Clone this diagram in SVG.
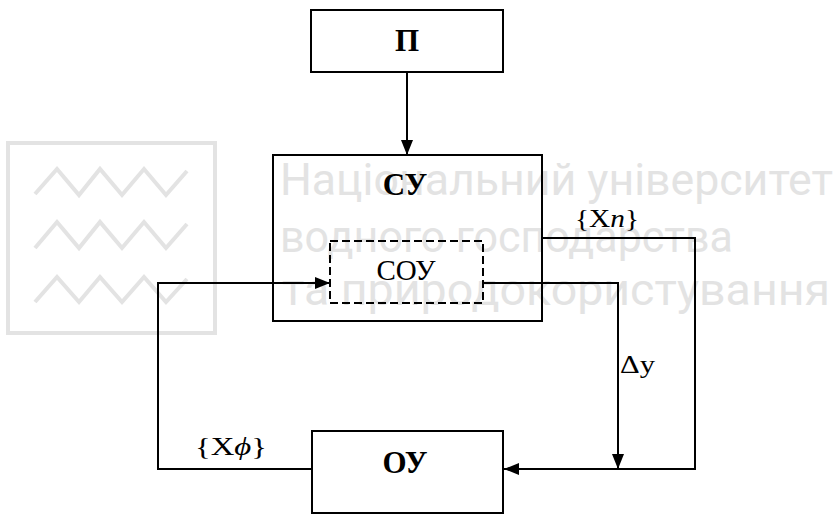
<svg xmlns="http://www.w3.org/2000/svg" width="837" height="514" viewBox="0 0 837 514">
<defs>
<marker id="arr" viewBox="0 0 15 12" refX="15" refY="6" markerWidth="15" markerHeight="12" markerUnits="userSpaceOnUse" orient="auto">
<path d="M0,0 L15,6 L0,12 Z" fill="#000"/>
</marker>
<style>
.box{fill:none;stroke:#000;stroke-width:2}
.dash{fill:none;stroke:#000;stroke-width:2;stroke-dasharray:8,4}
.ln{fill:none;stroke:#000;stroke-width:2}
.b{font-family:"Liberation Serif","Times New Roman",serif;font-weight:bold;font-size:31px;fill:#000;text-anchor:middle}
.r{font-family:"Liberation Serif","Times New Roman",serif;font-size:29px;fill:#000;text-anchor:middle}
.lb{font-family:"Liberation Serif","Times New Roman",serif;font-size:26px;fill:#000}
.wm{font-family:Roboto,"DejaVu Sans",sans-serif;font-size:44px;fill:#e3e3e3}
.wmz{fill:none;stroke:#e3e3e3;stroke-width:4}
</style>
</defs>
<rect width="837" height="514" fill="#fff"/>
<g id="watermark">
<rect class="wmz" x="8" y="143" width="207" height="190"/>
<polyline class="wmz" points="35,194 57,169 79,195 100,169 122,195 144,169 166,195 187,171"/>
<polyline class="wmz" points="35,248 57,222 79,248 100,222 122,248 144,222 166,248 187,224"/>
<polyline class="wmz" points="35,302 57,277 79,302 100,277 122,302 144,277 166,302 187,279"/>
<text class="wm" x="280" y="195" textLength="553" lengthAdjust="spacingAndGlyphs">Національний університет</text>
<text class="wm" x="280" y="252" textLength="453" lengthAdjust="spacingAndGlyphs">водного господарства</text>
<text class="wm" x="282" y="305" textLength="548" lengthAdjust="spacingAndGlyphs">та природокористування</text>
</g>
<g id="connectors">
<line class="ln" x1="407" y1="72" x2="407" y2="155" marker-end="url(#arr)"/>
<polyline class="ln" points="542,238 695,238 695,469 504,469" marker-end="url(#arr)"/>
<polyline class="ln" points="483,283 618,283 618,469" marker-end="url(#arr)"/>
<polyline class="ln" points="312,469 158,469 158,283 330,283" marker-end="url(#arr)"/>
<text class="lb" x="575" y="227" textLength="64" lengthAdjust="spacingAndGlyphs">{X<tspan font-style="italic">n</tspan>}</text>
<text class="lb" x="620" y="373" textLength="35" lengthAdjust="spacingAndGlyphs">Δy</text>
<text class="lb" x="195" y="455" textLength="72" lengthAdjust="spacingAndGlyphs">{X<tspan font-style="italic">ϕ</tspan>}</text>
</g>
<g id="node-P">
<rect class="box" x="311" y="10" width="192" height="62"/>
<text class="b" x="407" y="51">П</text>
</g>
<g id="node-SU">
<rect class="box" x="273" y="155" width="269" height="166"/>
<text class="b" x="405" y="195">СУ</text>
</g>
<g id="node-SOU">
<rect class="dash" x="330" y="241" width="153" height="62"/>
<text class="r" x="406" y="280">СОУ</text>
</g>
<g id="node-OU">
<rect class="box" x="312" y="431" width="191" height="82"/>
<text class="b" x="405" y="473">ОУ</text>
</g>
</svg>
